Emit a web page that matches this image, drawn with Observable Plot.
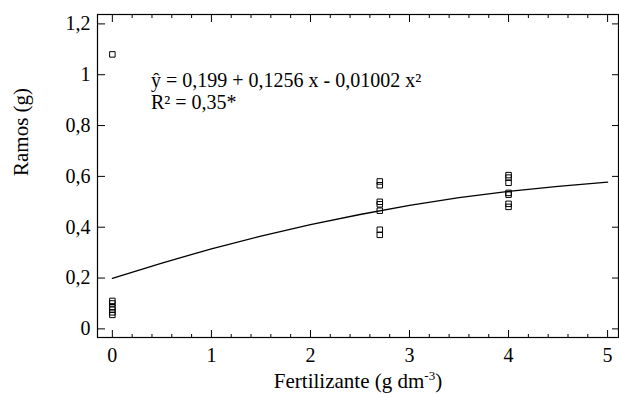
<!DOCTYPE html>
<html><head><meta charset="utf-8">
<script src="https://cdn.jsdelivr.net/npm/d3@7"></script>
<script src="https://cdn.jsdelivr.net/npm/@observablehq/plot@0.6"></script>
<style>body{margin:0;background:#fff}
.fontwarm{position:absolute;left:-2000px;top:0;font-family:"Liberation Serif";font-size:20px}</style>
</head><body><span class="fontwarm">Ramos Fertilizante 0,2</span><div id="chart"></div>
<script>
// Observed data (Fertilizante dose, Ramos g)
const dose0 = [1.08, 0.11, 0.10, 0.085, 0.075, 0.065, 0.055];
const dose27 = [0.58, 0.565, 0.50, 0.49, 0.465, 0.39, 0.37];
const dose4 = [0.605, 0.595, 0.575, 0.535, 0.528, 0.492, 0.48];
const doseLevels = [0, 2.7, 4];
// Fitted curve
const curveX = [0, 0.5, 1, 1.5, 2, 2.5, 3, 3.5, 4, 4.5, 5];
const curveY = [0.199, 0.259, 0.315, 0.365, 0.410, 0.450, 0.486, 0.516, 0.541, 0.561, 0.577];
// Ticks
const xTicks = [0, 1, 2, 3, 4, 5];
const xMinorTicks = [0.2,0.4,0.6,0.8,1.2,1.4,1.6,1.8,2.2,2.4,2.6,2.8,3.2,3.4,3.6,3.8,4.2,4.4,4.6,4.8];
const yTicks = [0, 0.2, 0.4, 0.6, 0.8, 1, 1.2];
const yTickLabels = ["0", "0,2", "0,4", "0,6", "0,8", "1", "1,2"];
const equationText = "ŷ = 0,199 + 0,1256 x - 0,01002 x²\nR² = 0,35*";
const equationPos = [{x: 0.39, y: 1.013}];
const xLabel = "Fertilizante (g dm-3)";
const yLabel = "Ramos (g)";

const FONT = "Liberation Serif";
const points = [
  ...dose0.map(v => ({x: doseLevels[0], y: v})),
  ...dose27.map(v => ({x: doseLevels[1], y: v})),
  ...dose4.map(v => ({x: doseLevels[2], y: v}))
];
const curve = curveX.map((x, i) => ({x, y: curveY[i]}));
const fmtY = d => yTickLabels[yTicks.indexOf(d)];

const plot = Plot.plot({
  width: 619,
  height: 394,
  marginTop: 14,
  marginBottom: 57,
  marginLeft: 97,
  marginRight: 1,
  style: {fontFamily: FONT, fontSize: "20px"},
  x: {domain: [-0.15, 5.11]},
  y: {domain: [-0.034, 1.237]},
  marks: [
    Plot.frame({stroke: "#000", strokeWidth: 1.2}),
    Plot.axisX({anchor: "bottom", ticks: xTicks, tickSize: -7, tickPadding: 17, label: null, tickFormat: d => String(d), fontSize: 20, fontFamily: FONT, fill: "#000"}),
    Plot.axisX({anchor: "bottom", ticks: xMinorTicks, tickSize: -3, text: null, label: null}),
    Plot.axisX({anchor: "top", ticks: xTicks, tickSize: -7, text: null, label: null}),
    Plot.axisX({anchor: "top", ticks: xMinorTicks, tickSize: -3, text: null, label: null}),
    Plot.axisY({anchor: "left", ticks: yTicks, tickSize: -8, tickPadding: 15, label: null, tickFormat: fmtY, fontSize: 20, fontFamily: FONT, fill: "#000"}),
    Plot.axisY({anchor: "right", ticks: yTicks, tickSize: -7, text: null, label: null}),
    Plot.line(curve, {x: "x", y: "y", stroke: "#000", strokeWidth: 1.3}),
    Plot.dot(points, {x: "x", y: "y", symbol: "square", r: 3.1, stroke: "#000", strokeWidth: 1, fill: "none"}),
    Plot.text(equationPos, {x: "x", y: "y", text: () => equationText, textAnchor: "start", lineAnchor: "top", lineHeight: 1.1, fontSize: 20, fontFamily: FONT, fill: "#000"}),
    Plot.text([xLabel], {frameAnchor: "bottom", dy: 44, lineAnchor: "middle", fontSize: 21, fontFamily: FONT, fill: "#000"}),
    Plot.text([yLabel], {frameAnchor: "left", dx: -76, rotate: -90, lineAnchor: "middle", fontSize: 21, fontFamily: FONT, fill: "#000"})
  ]
});
document.getElementById("chart").appendChild(plot);

// superscript for the unit exponent
const ns = "http://www.w3.org/2000/svg";
plot.querySelectorAll("text").forEach(t => {
  if (t.textContent === xLabel) {
    while (t.firstChild) t.removeChild(t.firstChild);
    const a = document.createElementNS(ns, "tspan"); a.textContent = "Fertilizante (g dm";
    const b = document.createElementNS(ns, "tspan"); b.textContent = "-3"; b.setAttribute("dy", "-8"); b.setAttribute("font-size", "13");
    const c = document.createElementNS(ns, "tspan"); c.textContent = ")"; c.setAttribute("dy", "8");
    t.appendChild(a); t.appendChild(b); t.appendChild(c);
  }
});
</script>
</body></html>
